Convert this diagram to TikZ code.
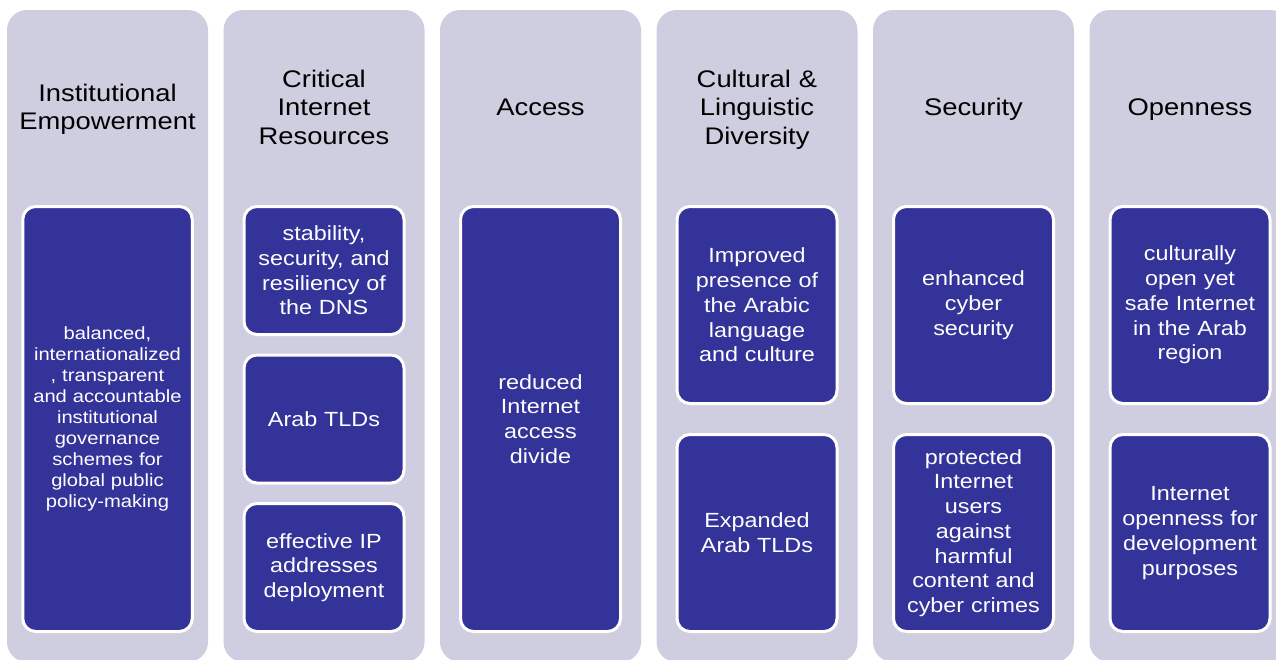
\documentclass[tikz,border=0pt]{standalone}
\usepackage{fontspec}
\setmainfont[FakeStretch=1.14]{Liberation Sans}
\usetikzlibrary{positioning}
\definecolor{lanegray}{RGB}{207,206,224}
\definecolor{goalblue}{RGB}{51,51,153}
\tikzstyle{lane}=[fill=lanegray,rounded corners=20pt,minimum width=201pt,minimum height=652pt,inner sep=0pt,outer sep=0pt]
\tikzstyle{hdr}=[text width=195pt,align=center,anchor=base,font=\fontsize{24}{28.5}\selectfont]
\tikzstyle{goal}=[draw=white,line width=3pt,fill=goalblue,text=white,rounded corners=13pt,minimum width=160pt,text width=152pt,align=center,inner sep=0pt,font=\fontsize{20.5}{24.75}\selectfont]

\begin{document}
\begin{tikzpicture}[
      x=1pt,y=-1pt
    ]
      \useasboundingbox (0,0) rectangle (1276,659);

      \node [lane] (l1) at (107.5,336) {};
      \node [lane] (l2) [right=15.5pt of l1] {};
      \node [lane] (l3) [right=15.5pt of l2] {};
      \node [lane] (l4) [right=15.5pt of l3] {};
      \node [lane] (l5) [right=15.5pt of l4] {};
      \node [lane] (l6) [right=15.5pt of l5] {};

      \node [hdr] (h1) at (l1.north |- 0,101.25) {Institutional\\Empowerment};
      \node [hdr] (h2) at (l2.north |- 0,87) {Critical\\Internet\\Resources};
      \node [hdr] (h3) at (l3.north |- 0,115.5) {Access};
      \node [hdr] (h4) at (l4.north |- 0,87) {Cultural \&\\Linguistic\\Diversity};
      \node [hdr] (h5) at (l5.north |- 0,115.5) {Security};
      \node [hdr] (h6) at (l6.north |- 0,115.5) {Openness};

      \node [goal,minimum width=169.5pt,text width=162pt,minimum height=425pt,font=\fontsize{17.7}{21}\selectfont] (g1) at (l1.north |- 0,419) {balanced,\\internationalized\\, transparent\\and accountable\\institutional\\governance\\schemes for\\global public\\policy-making};

      \node [goal,minimum height=128pt] (g21) at (l2.north |- 0,270.5) {stability,\\security, and\\resiliency of\\the DNS};
      \node [goal,minimum height=128pt] (g22) [below=17.5pt of g21] {Arab TLDs};
      \node [goal,minimum height=128pt] (g23) [below=17.5pt of g22] {effective IP\\addresses\\deployment};

      \node [goal,minimum height=425pt] (g3) at (l3.north |- 0,419) {reduced\\Internet\\access\\divide};

      \node [goal,minimum height=197pt] (g41) at (l4.north |- 0,305) {Improved\\presence of\\the Arabic\\language\\and culture};
      \node [goal,minimum height=197pt] (g42) [below=28pt of g41] {Expanded\\Arab TLDs};

      \node [goal,minimum height=197pt] (g51) at (l5.north |- 0,305) {enhanced\\cyber\\security};
      \node [goal,minimum height=197pt] (g52) [below=28pt of g51] {protected\\Internet\\users\\against\\harmful\\content and\\cyber crimes};

      \node [goal,minimum height=197pt] (g61) at (l6.north |- 0,305) {culturally\\open yet\\safe Internet\\in the Arab\\region};
      \node [goal,minimum height=197pt] (g62) [below=28pt of g61] {Internet\\openness for\\development\\purposes};
    \end{tikzpicture}
\end{document}
